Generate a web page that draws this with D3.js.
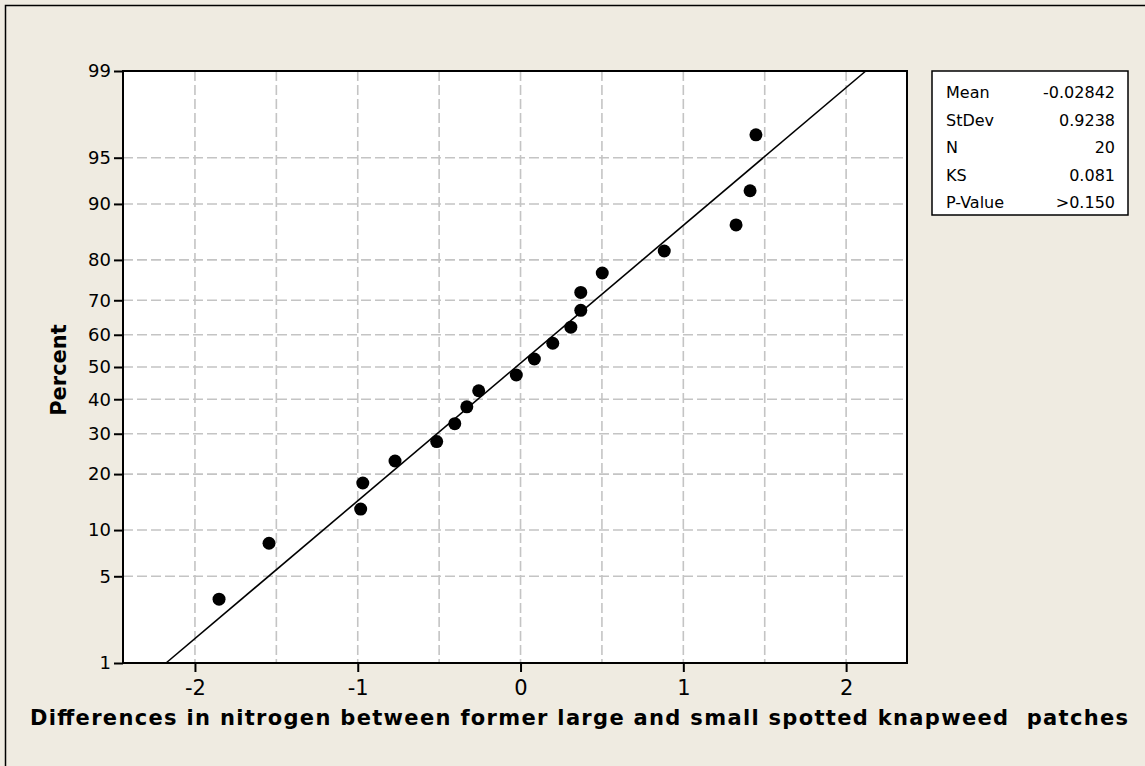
<!DOCTYPE html>
<html>
<head>
<meta charset="utf-8">
<script src="https://cdn.jsdelivr.net/npm/d3@7"></script>
<style>
  body { margin: 0; background: #efebe1; }
  svg { display: block; }
</style>
</head>
<body>
<svg id="chart" width="1145" height="766"></svg>
<script>
// data values (sorted)
const diffs = [-1.852, -1.545, -0.982, -0.969, -0.771, -0.515, -0.404, -0.330, -0.257, -0.026,
               0.085, 0.198, 0.309, 0.370, 0.370, 0.502, 0.883, 1.324, 1.410, 1.446];
const percents = [3.4, 8.3, 13.2, 18.1, 23.0, 27.9, 32.8, 37.7, 42.6, 47.5,
                  52.5, 57.4, 62.3, 67.2, 72.1, 77.0, 81.9, 86.8, 91.7, 96.6];
const yTicks = [1, 5, 10, 20, 30, 40, 50, 60, 70, 80, 90, 95, 99];
const xTicks = [-2, -1, 0, 1, 2];
const xGrid = [-2, -1.5, -1, -0.5, 0, 0.5, 1, 1.5, 2];
const statLabels = ["Mean", "StDev", "N", "KS", "P-Value"];
const statValues = ["-0.02842", "0.9238", "20", "0.081", ">0.150"];
const fitMean = -0.02842, fitSd = 0.9238;

// inverse normal cdf (Acklam)
function probit(p) {
  const a = [-3.969683028665376e+01, 2.209460984245205e+02, -2.759285104469687e+02, 1.383577518672690e+02, -3.066479806614716e+01, 2.506628277459239e+00];
  const b = [-5.447609879822406e+01, 1.615858368580409e+02, -1.556989798598866e+02, 6.680131188771972e+01, -1.328068155288572e+01];
  const c = [-7.784894002430293e-03, -3.223964580411365e-01, -2.400758277161838e+00, -2.549732539343734e+00, 4.374664141464968e+00, 2.938163982698783e+00];
  const d = [7.784695709041462e-03, 3.224671290700398e-01, 2.445134137142996e+00, 3.754408661907416e+00];
  const pl = 0.02425;
  let q, r;
  if (p < pl) {
    q = Math.sqrt(-2 * Math.log(p));
    return (((((c[0]*q+c[1])*q+c[2])*q+c[3])*q+c[4])*q+c[5]) / ((((d[0]*q+d[1])*q+d[2])*q+d[3])*q+1);
  }
  if (p <= 1 - pl) {
    q = p - 0.5; r = q * q;
    return (((((a[0]*r+a[1])*r+a[2])*r+a[3])*r+a[4])*r+a[5])*q / (((((b[0]*r+b[1])*r+b[2])*r+b[3])*r+b[4])*r+1);
  }
  q = Math.sqrt(-2 * Math.log(1 - p));
  return -(((((c[0]*q+c[1])*q+c[2])*q+c[3])*q+c[4])*q+c[5]) / ((((d[0]*q+d[1])*q+d[2])*q+d[3])*q+1);
}

const svg = d3.select("#chart");
const pL = 123, pR = 907, pT = 71, pB = 663;

// outer frame
svg.append("rect")
  .attr("x", 5.5).attr("y", 5.5)
  .attr("width", 1150).attr("height", 770)
  .attr("fill", "#efebe1").attr("stroke", "#000").attr("stroke-width", 1.5);

const x = d3.scaleLinear().domain([-2.442, 2.374]).range([pL, pR]);
const y = d3.scaleLinear().domain([probit(0.01), probit(0.99)]).range([pB, pT]);
const yp = p => y(probit(p / 100));

// plot background
svg.append("rect")
  .attr("x", pL).attr("y", pT)
  .attr("width", pR - pL).attr("height", pB - pT)
  .attr("fill", "#fff");

// grid
svg.append("g").selectAll("line")
  .data(xGrid)
  .join("line")
  .attr("x1", d => x(d)).attr("x2", d => x(d))
  .attr("y1", pT).attr("y2", pB)
  .attr("stroke", "#c4c4c4").attr("stroke-width", 1.6)
  .attr("stroke-dasharray", "10,4");

svg.append("g").selectAll("line")
  .data(yTicks.filter(d => d > 1 && d < 99))
  .join("line")
  .attr("x1", pL).attr("x2", pR)
  .attr("y1", d => yp(d)).attr("y2", d => yp(d))
  .attr("stroke", "#c4c4c4").attr("stroke-width", 1.6)
  .attr("stroke-dasharray", "10,4");

// fitted line
svg.append("line")
  .attr("x1", x(fitMean + fitSd * probit(0.01))).attr("y1", yp(1))
  .attr("x2", x(fitMean + fitSd * probit(0.99))).attr("y2", yp(99))
  .attr("stroke", "#000").attr("stroke-width", 1.6);

// points
svg.append("g").selectAll("circle")
  .data(diffs)
  .join("circle")
  .attr("cx", d => x(d))
  .attr("cy", (d, i) => yp(percents[i]))
  .attr("r", 6.5)
  .attr("fill", "#000");

// frame of plot
svg.append("rect")
  .attr("x", pL).attr("y", pT)
  .attr("width", pR - pL).attr("height", pB - pT)
  .attr("fill", "none").attr("stroke", "#000").attr("stroke-width", 2);

// axes
const xAxis = d3.axisBottom(x).tickValues(xTicks).tickSize(9).tickPadding(8).tickSizeOuter(0)
  .tickFormat(d3.format("d"));
const gX = svg.append("g")
  .attr("transform", "translate(0," + pB + ")")
  .call(xAxis);
gX.select(".domain").remove();
gX.selectAll(".tick line").attr("stroke-width", 2);
gX.selectAll(".tick text")
  .style("font-family", "DejaVu Sans, sans-serif")
  .style("font-size", "21px").attr("fill", "#000")
  .text(d => d < 0 ? "-" + Math.abs(d) : d);

const yAxis = d3.axisLeft(y).tickValues(yTicks.map(p => probit(p / 100)))
  .tickSize(9).tickPadding(3).tickSizeOuter(0)
  .tickFormat((d, i) => yTicks[i]);
const gY = svg.append("g")
  .attr("transform", "translate(" + pL + ",0)")
  .call(yAxis);
gY.select(".domain").remove();
gY.selectAll(".tick line").attr("stroke-width", 2);
gY.selectAll(".tick text")
  .style("font-family", "DejaVu Sans, sans-serif")
  .style("font-size", "18px").attr("fill", "#000");

// axis titles
svg.append("text")
  .attr("x", 579).attr("y", 725)
  .attr("text-anchor", "middle")
  .attr("textLength", 1098).attr("lengthAdjust", "spacing")
  .style("font-family", "DejaVu Sans, sans-serif")
  .style("font-size", "21px").style("font-weight", "bold")
  .style("white-space", "pre")
  .text("Differences in nitrogen between former large and small spotted knapweed  patches");

svg.append("text")
  .attr("transform", "translate(66,370) rotate(-90)")
  .attr("text-anchor", "middle")
  .style("font-family", "DejaVu Sans, sans-serif")
  .style("font-size", "21px").style("font-weight", "bold")
  .text("Percent");

// stats box
const box = svg.append("g");
box.append("rect")
  .attr("x", 932).attr("y", 71)
  .attr("width", 196).attr("height", 144)
  .attr("fill", "#fff").attr("stroke", "#000").attr("stroke-width", 1.5);
box.selectAll("text.lab")
  .data(statLabels)
  .join("text")
  .attr("class", "lab")
  .attr("x", 946).attr("y", (d, i) => 98 + i * 27.5)
  .style("font-family", "DejaVu Sans, sans-serif").style("font-size", "16px")
  .text(d => d);
box.selectAll("text.val")
  .data(statValues)
  .join("text")
  .attr("class", "val")
  .attr("x", 1115).attr("y", (d, i) => 98 + i * 27.5)
  .attr("text-anchor", "end")
  .style("font-family", "DejaVu Sans, sans-serif").style("font-size", "16px")
  .text(d => d);
</script>
</body>
</html>
